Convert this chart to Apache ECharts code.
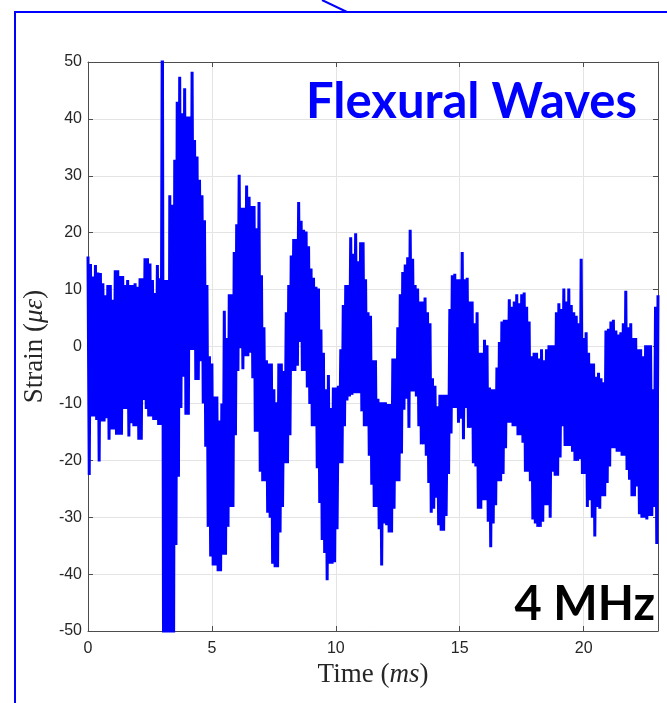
<!DOCTYPE html>
<html>
<head>
<meta charset="utf-8">
<script src="https://cdn.jsdelivr.net/npm/echarts@6/dist/echarts.min.js"></script>
<style>
  html, body { margin: 0; padding: 0; background: #fff; }
  #chart { width: 667px; height: 703px; }
</style>
</head>
<body>
<div id="chart"></div>
<script>
// Strain record, 4 MHz acquisition, flexural wave arrivals.
// Each 0.1 ms slot holds the top swing (at the slot start) and the bottom swing (half a slot later).
const slotMs = 0.1;

const upperSwing = [
  15.8, 14.5, 12.3, 14.3, 13.0, 12.9, 11.1, 9.0, 10.8, 10.8,
  8.2, 13.4, 13.4, 12.4, 12.4, 10.8, 11.7, 10.8, 10.8, 11.1,
  10.5, 12.0, 12.0, 15.5, 15.5, 14.6, 11.7, 9.4, 14.3, 12.0,
  62.0, 11.7, 11.7, 26.6, 24.9, 32.8, 43.0, 47.4, 41.0, 45.4,
  40.4, 40.4, 48.3, 36.3, 33.4, 29.3, 26.6, 22.2, 10.8, -1.7,
  -3.0, -8.8, -8.8, -13.0, -10.0, 6.3, 1.5, 9.2, 9.2, 16.6,
  21.5, 30.2, 24.4, 24.4, 28.3, 26.3, 24.7, 24.7, 20.8, 25.4,
  12.5, 3.4, -2.4, -3.0, -3.0, -7.5, -9.8, -3.0, -3.0, -4.3,
  6.0, 10.8, 16.0, 18.9, 18.9, 25.4, 22.1, 20.5, 20.2, 17.6,
  13.7, 12.1, 10.5, 10.2, 3.0, -1.1, -7.5, -5.0, -10.8, -7.2,
  -7.2, -6.9, -0.5, 7.3, 10.8, 10.8, 19.2, 16.3, 19.9, 15.0,
  18.3, 18.3, 11.8, 6.0, 5.4, -2.4, -2.4, -9.2, -9.8, -9.8,
  -9.8, -10.1, -10.1, -2.1, -2.1, 3.4, 9.2, 13.1, 14.4, 15.7,
  20.5, 15.4, 10.8, 10.2, 7.9, 7.9, 8.6, 6.0, 4.1, -5.6,
  -6.9, -10.5, -8.5, -8.5, -8.5, -8.5, 6.6, 12.5, 12.8, 11.8,
  11.8, 16.6, 11.8, 12.1, 7.9, 7.9, 4.1, 6.0, -1.1, -1.1,
  1.2, 0.2, -7.2, -7.5, -7.5, -3.7, 0.8, 4.4, 4.7, 4.7,
  8.3, 7.0, 7.9, 9.2, 7.6, 9.2, 9.5, 7.0, 4.4, -1.7,
  -1.1, -1.1, -2.1, -0.5, -2.4, -0.5, 0.2, 0.2, 0.2, 6.0,
  7.6, 6.6, 10.2, 7.9, 10.2, 7.3, 6.0, 5.4, 4.1, 15.4,
  1.5, 2.5, -1.1, -3.0, -3.0, -5.3, -4.6, -5.6, -6.3, 2.8,
  3.1, 4.4, 4.7, 2.8, 2.1, 2.5, 4.1, 9.8, 3.4, 4.1,
  1.5, 1.5, -0.5, -0.5, -1.7, 0.2, 0.2, 0.2, -7.5, 7.0,
  9.0
];

const lowerSwing = [
  -22.6, -12.3, -12.3, -12.9, -20.2, -13.2, -13.2, -12.6, -16.4, -14.6,
  -14.6, -15.5, -15.5, -15.5, -11.0, -11.0, -15.8, -13.5, -14.0, -14.0,
  -16.4, -16.4, -9.4, -11.0, -12.3, -12.3, -12.9, -12.9, -13.8, -13.8,
  -60.0, -60.0, -60.0, -60.0, -60.0, -34.9, -22.9, -10.8, -5.3, -12.0,
  -12.0, -0.6, -0.6, -5.9, -5.9, -2.6, -10.0, -17.6, -31.7, -36.9,
  -38.5, -38.5, -39.5, -39.5, -36.6, -36.6, -31.7, -28.2, -28.2, -15.6,
  -4.3, -0.3, -4.0, -1.7, -1.7, -1.1, -5.6, -15.0, -15.0, -22.0,
  -23.7, -23.7, -29.2, -30.1, -38.2, -38.8, -38.8, -32.7, -28.2, -20.5,
  -20.5, -15.6, -4.3, -4.3, -3.4, 0.8, -4.3, -4.3, -7.2, -10.1,
  -14.0, -14.0, -21.4, -27.5, -34.0, -36.3, -41.1, -38.2, -38.2, -37.9,
  -32.1, -20.5, -20.5, -14.0, -9.5, -8.8, -8.5, -8.2, -8.2, -8.2,
  -11.4, -14.0, -14.0, -19.2, -24.3, -28.2, -28.2, -32.1, -38.5, -31.1,
  -31.4, -32.7, -32.7, -28.5, -23.7, -23.7, -18.8, -11.1, -9.2, -14.3,
  -7.9, -7.9, -8.8, -14.0, -17.2, -17.2, -19.2, -24.0, -29.2, -28.5,
  -26.6, -31.4, -32.4, -32.4, -29.8, -22.4, -15.3, -10.8, -10.8, -13.4,
  -12.7, -16.3, -10.8, -14.3, -14.3, -20.5, -21.1, -28.5, -28.5, -27.0,
  -27.0, -30.8, -35.3, -31.1, -27.9, -23.7, -23.7, -22.4, -17.9, -13.4,
  -13.4, -14.0, -14.0, -15.6, -15.6, -16.9, -22.0, -22.0, -23.7, -30.4,
  -31.1, -31.7, -31.7, -30.8, -27.9, -27.9, -30.1, -22.0, -22.7, -22.7,
  -19.5, -14.0, -17.5, -17.5, -17.5, -18.5, -20.1, -20.1, -19.8, -22.4,
  -22.4, -28.2, -27.0, -30.1, -33.4, -28.2, -28.5, -26.3, -26.3, -24.0,
  -21.1, -17.9, -17.9, -18.5, -18.5, -19.2, -19.2, -21.7, -23.4, -26.3,
  -26.3, -24.6, -29.5, -30.1, -30.1, -30.4, -29.8, -29.8, -28.2, -34.7
];

const timeTicks = [0, 5, 10, 15, 20];
const strainTicks = [-50, -40, -30, -20, -10, 0, 10, 20, 30, 40, 50];

// Interleave top and bottom swings into one time-ordered trace
const trace = [];
for (let i = 0; i < upperSwing.length; i++) {
  trace.push([i * slotMs, upperSwing[i]]);
  if (i < lowerSwing.length) trace.push([i * slotMs + slotMs / 2, lowerSwing[i]]);
}

const inkColor = '#262626';
const tickFont = { fontFamily: 'Liberation Sans', fontSize: 16, color: inkColor };
const serif = 'Liberation Serif';
const nameSize = 27;

const chart = echarts.init(document.getElementById('chart'), null, { renderer: 'canvas' });

// Top and right edges of the axes box: lines with inward ticks, no labels
const frameAxis = {
  axisLine: { show: true, onZero: false, lineStyle: { color: '#4d4d4d', width: 1 } },
  axisTick: { show: true, inside: true, length: 5, lineStyle: { color: '#4d4d4d' } },
  axisLabel: { show: false },
  splitLine: { show: false }
};

const nameRich = {
  n: { fontFamily: serif, fontSize: nameSize, color: inkColor },
  i: { fontFamily: serif, fontSize: nameSize, fontStyle: 'italic', color: inkColor }
};

chart.setOption({
  animation: false,
  backgroundColor: '#ffffff',
  grid: { left: 88, top: 62, right: 9, bottom: 72, containLabel: false },
  xAxis: [
    {
      type: 'value', min: 0, max: 23, interval: 5,
      axisLine: { show: true, onZero: false, lineStyle: { color: '#4d4d4d', width: 1 } },
      axisTick: { show: true, inside: true, length: 5, lineStyle: { color: '#4d4d4d' } },
      axisLabel: Object.assign({ margin: 10, showMaxLabel: false,
        formatter: v => (timeTicks.indexOf(v) >= 0 ? String(v) : '') }, tickFont),
      splitLine: { show: true, lineStyle: { color: '#e4e4e4', width: 1 } },
      name: '{n|Time (}{i|ms}{n|)}',
      nameLocation: 'middle',
      nameGap: 30,
      nameTextStyle: { rich: nameRich }
    },
    Object.assign({ type: 'value', min: 0, max: 23, interval: 5, position: 'top' }, frameAxis)
  ],
  yAxis: [
    {
      type: 'value', min: -50, max: 50, interval: 10,
      axisLine: { show: true, onZero: false, lineStyle: { color: '#4d4d4d', width: 1 } },
      axisTick: { show: true, inside: true, length: 5, lineStyle: { color: '#4d4d4d' } },
      axisLabel: Object.assign({ margin: 6,
        formatter: v => (strainTicks.indexOf(v) >= 0 ? String(v) : '') }, tickFont),
      splitLine: { show: true, lineStyle: { color: '#e4e4e4', width: 1 } },
      name: '{n|Strain (}{i|με}{n|)}',
      nameLocation: 'middle',
      nameGap: 31,
      nameTextStyle: { rich: nameRich }
    },
    Object.assign({ type: 'value', min: -50, max: 50, interval: 10, position: 'right' }, frameAxis)
  ],
  series: [{
    type: 'line',
    data: trace,
    showSymbol: false,
    symbol: 'none',
    sampling: null,
    clip: true,
    lineStyle: { color: '#0000ff', width: 3, join: 'miter' },
    z: 3
  }],
  graphic: [
    {
      type: 'rect', z: 50, silent: true,
      shape: { x: 15, y: 12, width: 720, height: 740 },
      style: { fill: 'none', stroke: '#0000ff', lineWidth: 2 }
    },
    {
      type: 'line', z: 50, silent: true,
      shape: { x1: 322, y1: 0, x2: 347, y2: 12 },
      style: { stroke: '#0000ff', lineWidth: 2 }
    },
    {
      type: 'text', z: 60, silent: true,
      x: 637, y: 102,
      style: {
        text: 'Flexural Waves',
        fontFamily: 'Lato', fontWeight: 'bold', fontSize: 49,
        fill: '#0000ff', align: 'right', verticalAlign: 'middle'
      }
    },
    {
      type: 'text', z: 60, silent: true,
      x: 655, y: 605,
      style: {
        text: '4 MHz',
        fontFamily: 'Lato', fontWeight: 'bold', fontSize: 47,
        fill: '#000000', align: 'right', verticalAlign: 'middle'
      }
    }
  ]
});
</script>
</body>
</html>
